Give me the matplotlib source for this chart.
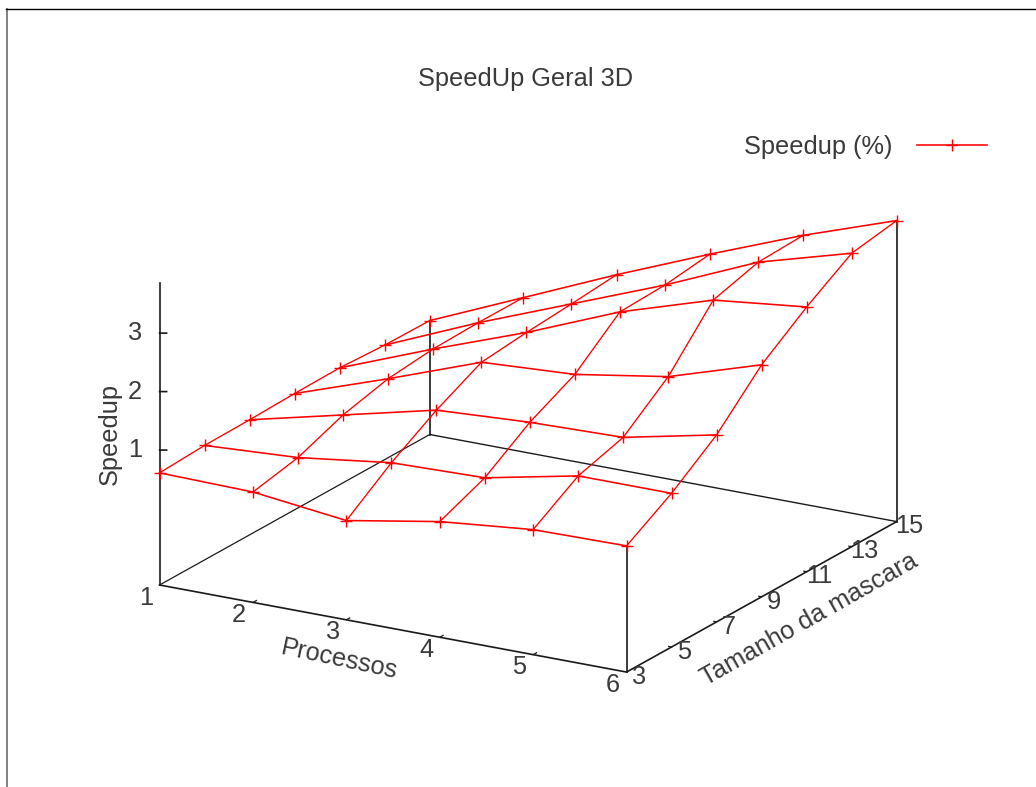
import numpy as np
import matplotlib
matplotlib.use('Agg')
import matplotlib.pyplot as plt
from matplotlib.lines import Line2D
from mpl_toolkits.mplot3d import proj3d

plt.rcParams['font.family'] = ['Liberation Sans', 'DejaVu Sans']

processos = [1, 2, 3, 4, 5, 6]
mascaras = [3, 5, 7, 9, 11, 13, 15]

# Speedup por tamanho da mascara (um valor por numero de processos)
speedup_3 = [0.61, 0.58, 0.39, 0.67, 0.83, 0.85]
speedup_5 = [0.65, 0.74, 0.95, 0.99, 1.32, 1.32]
speedup_7 = [0.66, 1.04, 1.42, 1.51, 1.55, 1.89]
speedup_9 = [0.68, 1.23, 1.81, 1.90, 2.16, 2.66]
speedup_11 = [0.69, 1.31, 1.89, 2.54, 3.04, 3.22]
speedup_13 = [0.65, 1.33, 1.95, 2.57, 3.26, 3.71]
speedup_15 = [0.64, 1.33, 2.02, 2.67, 3.29, 3.84]

zticks = [1, 2, 3]
zbase = -1.308
ztop = 3.854

speedup = np.array([speedup_3, speedup_5, speedup_7, speedup_9,
                    speedup_11, speedup_13, speedup_15])

W, H = 1036, 787
FS = 18.3
RED = '#ff0000'
BLACK = '#1a1a1a'
GREY = '#3a3a3a'

fig = plt.figure(figsize=(W / 100, H / 100), dpi=100)

# moldura da captura de tela
fig.add_artist(Line2D([6.5 / W, 6.5 / W], [0, 1 - 8.5 / H], color='#808080', lw=1.4))
fig.add_artist(Line2D([6 / W, 1], [1 - 8.5 / H, 1 - 8.5 / H], color='black', lw=1.0))

# eixo quadrado, deslocado para a caixa 3D cair no lugar certo
ax = fig.add_axes([(517.5 - H / 2) / W, (H - 413 - H / 2) / H, H / W, 1], projection='3d', proj_type='ortho')
ax.computed_zorder = False
ax.view_init(elev=18.8, azim=-59.95)
ax.set_xlim(1, 6, view_margin=0)
ax.set_ylim(3, 15, view_margin=0)
ax.set_zlim(zbase, ztop, view_margin=0)
ax.set_box_aspect((1, 1, 0.591), zoom=1.02)
ax.set_axis_off()
ax.patch.set_alpha(0)

x0, x1 = processos[0], processos[-1]
y0, y1 = mascaras[0], mascaras[-1]

def box_line(xs, ys, zs, lw=1.2):
    ax.plot(xs, ys, zs, color=BLACK, lw=lw, clip_on=False)

def tick_label(x, y, z, s):
    # texto 2D na posicao projetada do ponto 3D
    xp, yp, _ = proj3d.proj_transform(x, y, z, ax.get_proj())
    ax.text2D(xp, yp, s, transform=ax.transData, fontsize=FS, color=GREY,
              ha='center', va='center', clip_on=False)

# base e verticais
box_line([x0, x1], [y0, y0], [zbase, zbase])
box_line([x1, x1], [y0, y1], [zbase, zbase])
box_line([x0, x0], [y0, y1], [zbase, zbase], lw=0.9)
box_line([x0, x1], [y1, y1], [zbase, zbase], lw=1.0)
box_line([x0, x0], [y0, y0], [zbase, ztop])
box_line([x1, x1], [y0, y0], [zbase, speedup[0, -1]])
box_line([x1, x1], [y1, y1], [zbase, speedup[-1, -1]])
box_line([x0, x0], [y1, y1], [zbase, speedup[-1, 0]])

# ticks e rotulos
for x in processos:
    if x not in (x0, x1):
        box_line([x, x], [y0, y0 + 0.15], [zbase, zbase], lw=0.9)
    tick_label(x + 0.07, y0 - 0.9, zbase, str(x))
for m in mascaras:
    if m not in (y0, y1):
        box_line([x1 - 0.03, x1], [m, m], [zbase, zbase], lw=0.9)
    tick_label(x1 + 0.17, m - 0.144, zbase, str(m))
for z in zticks:
    box_line([x0, x0 + 0.057], [y0, y0 + 0.077], [z, z])
    tick_label(x0 - 0.2, y0 - 0.274, z, str(z))

# superficie
for i, m in enumerate(mascaras):
    ax.plot(processos, [m] * len(processos), speedup[i], color=RED, lw=1.15,
            marker='+', ms=9, mew=1.0, clip_on=False,
            label='Speedup (%)' if i == 0 else None)
for j, p in enumerate(processos):
    ax.plot([p] * len(mascaras), mascaras, speedup[:, j], color=RED, lw=0.95, clip_on=False)

fig.text(526 / W, 1 - 79 / H, 'SpeedUp Geral 3D', fontsize=FS, color=GREY, ha='center', va='center')
fig.text(339 / W, 1 - 659 / H, 'Processos', fontsize=FS, color=GREY, rotation=-12,
         rotation_mode='anchor', ha='center', va='center')
fig.text(809 / W, 1 - 620 / H, 'Tamanho da mascara', fontsize=FS, color=GREY, rotation=29.5,
         rotation_mode='anchor', ha='center', va='center')
fig.text(110 / W, 1 - 434 / H, 'Speedup', fontsize=FS, color=GREY, rotation=90,
         ha='center', va='center')

fig.legend(loc='center right', bbox_to_anchor=(987 / W, 1 - 147 / H), frameon=False,
           markerfirst=False, numpoints=1, handlelength=2.75, handletextpad=0.95,
           borderpad=0, borderaxespad=0, fontsize=FS, labelcolor=GREY)

fig.savefig('out.png', dpi=100)
